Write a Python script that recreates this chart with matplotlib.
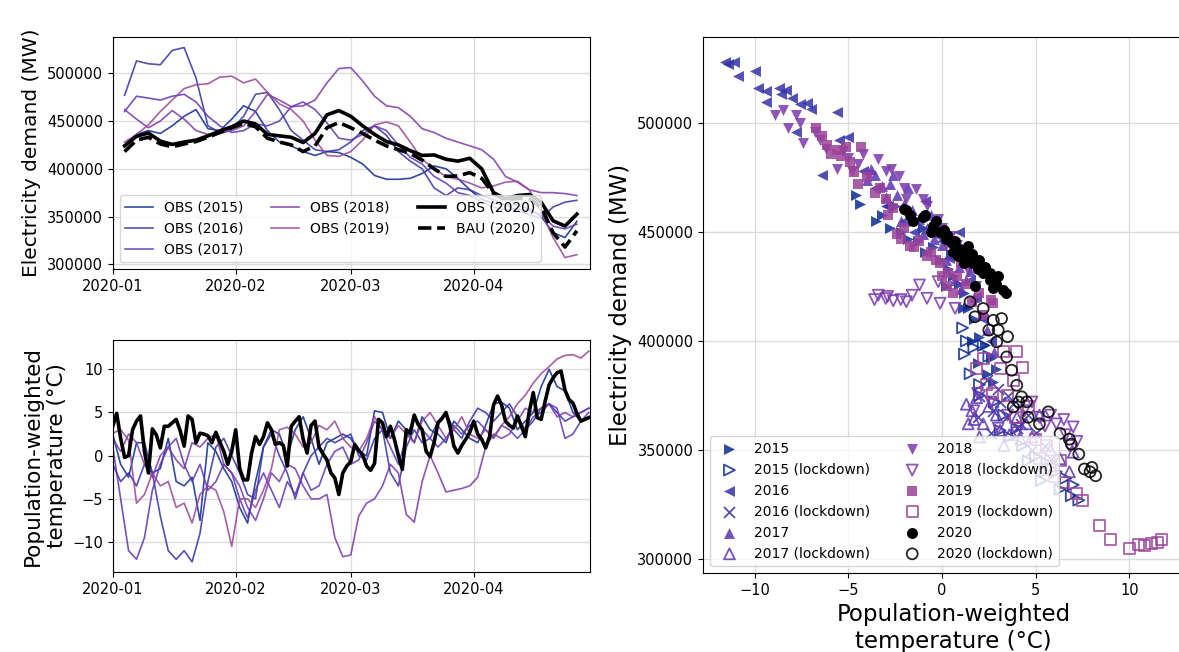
import matplotlib

matplotlib.use("Agg")
import matplotlib.dates as mdates
import matplotlib.pyplot as plt
import numpy as np

# ---- data ------------------------------------------------------------------
BASE_DATE = np.datetime64("2020-01-01")
YEARS = [2015, 2016, 2017, 2018, 2019]
YEAR_COLORS = {2015: "#0b2a8f", 2016: "#3431a6", 2017: "#5b36b4", 2018: "#7b37ad", 2019: "#9b4299"}

# 7-day smoothed demand, sampled every 3 days (day 3 .. day 117 after Jan 1)
demand_days = np.arange(3, 118, 3)
demand_2015 = [425000, 436000, 440000, 437000, 445000, 455000, 462000, 442000, 440000, 452000,
               466000, 460000, 440000, 428000, 424000, 418000, 414000, 418000, 417000, 412000,
               405000, 393000, 389000, 389000, 390000, 395000, 403000, 400000, 390000, 378000,
               368000, 364000, 362000, 362000, 358000, 350000, 333000, 328000, 345000]
demand_2016 = [477000, 513000, 510000, 509000, 524000, 527000, 495000, 445000, 438000, 442000,
               455000, 478000, 480000, 462000, 440000, 430000, 420000, 418000, 420000, 428000,
               440000, 445000, 435000, 418000, 408000, 400000, 380000, 372000, 380000, 378000,
               372000, 368000, 362000, 356000, 352000, 348000, 360000, 365000, 367000]
demand_2017 = [460000, 476000, 474000, 472000, 476000, 478000, 470000, 455000, 445000, 438000,
               440000, 447000, 445000, 450000, 465000, 470000, 462000, 448000, 432000, 430000,
               436000, 445000, 440000, 425000, 412000, 405000, 392000, 385000, 375000, 372000,
               365000, 360000, 357000, 358000, 356000, 352000, 340000, 337000, 342000]
demand_2018 = [462000, 452000, 443000, 450000, 461000, 452000, 440000, 436000, 437000, 440000,
               445000, 460000, 478000, 472000, 465000, 466000, 472000, 490000, 505000, 506000,
               492000, 476000, 466000, 464000, 455000, 442000, 438000, 432000, 428000, 424000,
               420000, 410000, 392000, 386000, 378000, 375000, 375000, 374000, 372000]
demand_2019 = [428000, 436000, 446000, 460000, 472000, 484000, 488000, 489000, 496000, 497000,
               490000, 494000, 480000, 468000, 462000, 450000, 430000, 414000, 413000, 418000,
               430000, 446000, 449000, 445000, 428000, 410000, 400000, 392000, 389000, 385000,
               380000, 382000, 386000, 387000, 378000, 355000, 328000, 307000, 310000]
demand_obs_2020 = [424000, 434000, 437500, 429000, 425500, 428000, 430000, 434500, 439500, 444000,
                   450000, 447000, 436000, 434500, 433000, 427500, 437000, 456500, 461000, 455000,
                   445000, 436000, 428500, 425000, 419000, 414000, 414500, 410000, 408000, 411000,
                   400000, 375000, 368500, 372000, 373000, 365000, 345500, 340000, 352500]
demand_bau_2020 = [418000, 430000, 433000, 426000, 423000, 426000, 428500, 433000, 438000, 443000,
                   447500, 444000, 432000, 428000, 425000, 418000, 424000, 443000, 448500, 443000,
                   437000, 430000, 424000, 420000, 416000, 409000, 400000, 392000, 392500, 396000,
                   390000, 374000, 367000, 369000, 368000, 360000, 333000, 318000, 335000]

# population-weighted temperature, every 2 days for past years, daily for 2020
temp_days = np.arange(0, 121, 2)
temp_2015 = [2.5, -1.0, -2.5, 1.5, 1.5, -2.0, -1.5, 2.0, -3.0, -3.5, -2.5, -7.5, 1.5, 0.5, -1.5,
             -3.0, -6.0, -7.8, -3.0, 1.0, 3.0, 2.5, 0.0, 3.0, 4.5, 2.0, -1.0, 1.5, 2.0, 2.5,
             2.0, 0.5, 0.0, 5.2, 5.0, 2.0, 4.0, 3.0, 1.5, 4.5, 3.0, 2.5, 1.5, 4.0, 3.0,
             2.0, 1.5, 3.5, 6.0, 6.2, 5.5, 3.0, 4.0, 5.0, 8.0, 10.0, 8.0, 7.5, 5.0, 4.0, 4.5]
temp_2016 = [-1.0, -3.0, -2.0, -3.5, -1.0, -2.0, -7.0, -11.0, -12.0, -11.0, -12.3, -9.0, -3.0, 1.0, 2.0,
             0.0, -2.0, -4.5, -5.0, 1.0, 2.5, 0.0, -2.0, -5.0, -2.0, 0.0, 1.0, 2.0, 1.5, 2.0,
             2.5, 0.0, -0.5, 2.0, 3.0, -2.0, -3.5, 1.0, 3.0, 1.5, 2.0, 4.0, 5.0, 3.0, 2.0,
             4.0, 5.5, 5.0, 4.0, 5.0, 6.0, 4.5, 3.0, 4.0, 5.5, 6.0, 5.0, 4.0, 4.5, 5.0, 5.5]
temp_2017 = [1.0, -5.0, -11.0, -12.0, -9.5, -4.0, -1.0, 1.0, 2.0, -1.0, -3.0, -1.0, -4.0, -3.0, -1.0,
             -2.0, -5.0, -7.2, -4.0, -2.0, -4.0, -6.0, -3.0, -4.5, -2.0, -4.0, -3.5, -1.0, 0.5, 1.0,
             -1.0, -0.5, 1.5, 4.0, 3.0, 1.0, -1.0, 2.0, 4.5, 3.0, 2.0, 1.0, 2.0, 3.5, 2.5,
             3.5, 4.0, 3.0, 2.0, 3.5, 3.0, 2.0, 3.0, 4.5, 5.0, 6.0, 5.5, 2.0, 2.5, 4.0, 5.0]
temp_2018 = [2.0, 0.5, 2.5, 1.5, -1.0, -2.5, 0.0, 1.0, -0.5, -1.5, 1.5, 1.0, 2.0, 2.5, -1.0,
             -2.0, -3.5, -6.0, -7.5, -5.0, -2.0, -3.0, -1.0, -1.5, -3.5, -5.0, -5.0, -4.5, -9.5, -11.7,
             -11.5, -7.0, -5.5, -5.0, -3.5, -1.0, -2.0, -6.8, -7.7, -3.0, 0.0, -2.0, -4.2, -4.0, -3.8,
             -3.5, -2.5, 1.0, 2.5, 2.0, 2.5, 4.0, 5.5, 5.0, 5.5, 6.0, 4.5, 5.0, 4.5, 5.0, 5.5]
temp_2019 = [2.6, 3.0, 1.8, -5.5, -4.5, -2.0, -3.5, -3.0, -6.0, -5.5, -7.8, -4.5, -3.5, -4.0, -6.5,
             -10.5, -5.0, -5.0, -6.0, -4.0, -1.5, 3.0, 3.3, 2.5, 1.0, 1.5, 3.5, 3.0, 4.0, 2.0,
             1.0, 0.5, 2.0, 4.5, 3.0, 2.0, 3.5, 2.5, 1.5, 4.0, 5.0, 3.5, 2.0, 3.0, 4.5,
             2.5, 2.0, 3.0, 2.2, 3.5, 4.5, 6.0, 7.0, 8.4, 9.5, 10.3, 11.2, 11.6, 11.7, 11.3, 12.1]
temp_days_2020 = np.arange(0, 121)
temp_2020 = [3.4, 4.9, 2.0, -0.2, 0.0, 3.0, 4.0, 4.6, 0.5, -2.0, 3.1, 2.4, 0.9, 3.4, 3.4,
             3.8, 4.2, 2.9, 1.1, 4.6, 4.2, 1.5, 2.6, 2.5, 2.3, 1.5, 2.7, 1.6, 0.5, -1.0,
             0.5, 3.0, -1.5, -2.8, -2.8, 0.3, 2.2, 1.3, 2.2, 3.8, 3.0, 1.3, 1.5, 1.2, -1.2,
             3.4, 4.0, 4.5, 1.9, 0.3, 3.5, 4.0, 1.0, 0.2, -0.5, -2.0, -2.6, -4.5, -2.0, -1.2,
             -0.7, 1.3, 0.6, 0.1, -1.2, -1.7, -0.9, 4.2, 3.8, 2.2, 3.4, 1.9, 0.0, -1.6, 3.0,
             2.6, 4.7, 3.6, 3.0, 0.5, -0.1, 1.5, 3.8, 4.3, 5.0, 3.4, 1.1, 0.3, 1.2, 1.9,
             2.7, 4.0, 2.5, 1.9, 0.9, 2.2, 5.9, 6.9, 5.9, 4.0, 3.5, 3.2, 4.6, 3.4, 2.2,
             5.1, 7.3, 4.4, 4.2, 6.3, 8.2, 9.0, 9.6, 9.8, 7.6, 6.5, 6.1, 4.9, 4.0, 4.2, 4.4]

# scatter: (temperature, demand) before and during the lockdown window
sc_2015_t = [-4.6, -4.4, -3.5, -3.2, -2.8, -2.2, -1.8, -1.3, -0.9, -0.5, -0.1, 0.3, 0.6, 0.9, 1.2,
             1.4, 1.7, 2.0, 2.3, 2.6, 0.2, -1.0, 1.9, 2.9, -2.5, -1.5, 0.5, 1.1, 2.4, 2.7, 1.6]
sc_2015_d = [467000, 463000, 455000, 458000, 452000, 450000, 447000, 446000, 441000, 443000, 437000,
             433000, 430000, 426000, 422000, 415000, 410000, 402000, 398000, 392000, 425000, 452000,
             390000, 387000, 462000, 455000, 440000, 415000, 385000, 381000, 400000]
lk_2015_t = [1.1, 1.3, 1.2, 1.7, 2.2, 2.5, 1.5, 2.0, 3.1, 3.6, 4.3, 5.0, 5.6, 6.1, 6.6, 7.0, 7.3,
             6.9, 5.3, 4.6, 2.8, 3.3, 2.0, 4.0, 5.5, 6.3]
lk_2015_d = [406000, 400000, 394000, 397000, 398000, 393000, 385000, 380000, 359000, 356000, 352000,
             347000, 344000, 340000, 337000, 334000, 327000, 329000, 336000, 345000, 372000, 366000,
             375000, 360000, 340000, 332000]
sc_2016_t = [-11.6, -11.4, -11.1, -10.9, -10.0, -9.8, -9.4, -9.4, -8.7, -8.6, -8.0, -7.6, -7.0, -6.4,
             -5.0, -3.6, -2.9, -2.0, -0.9, 0.0, 0.9, 1.5, 2.2, -1.5, 0.4, -8.3, -7.2, -5.6, -4.2,
             -3.0, -0.2, -7.8, -5.5, 1.8, 2.6]
sc_2016_d = [528000, 527000, 528000, 521500, 523800, 516200, 514600, 509400, 516200, 513100, 511600,
             508600, 506300, 476000, 493600, 470000, 462000, 455000, 464000, 446000, 450000, 428000,
             410000, 450000, 438000, 515000, 509000, 505000, 478000, 462000, 448000, 496000, 492000,
             420000, 400000]
lk_2016_t = [2.0, 2.7, 3.1, 3.45, 3.8, 4.2, 4.6, 5.0, 3.0, 2.4, 4.0, 5.5, 2.6, 3.5, 4.8, 5.8, 1.9]
lk_2016_d = [375000, 368000, 372000, 365000, 371000, 362000, 366000, 358000, 378000, 382000, 360000,
             352000, 358000, 375000, 350000, 346000, 365000]
sc_2017_t = [-4.0, -3.6, -3.2, -2.8, -2.4, -2.0, -1.6, -1.2, -0.8, -0.4, 0.0, 0.5, 0.9, 1.3, 1.7,
             2.1, -3.0, -1.0, 0.2, 1.0, -3.8, -2.6, -1.8, -0.6, 0.4, 1.5, 2.4, 2.8, -2.2, 0.7]
sc_2017_d = [474000, 476000, 471000, 472000, 467000, 463000, 460000, 456000, 452000, 447000, 444000,
             440000, 434000, 428000, 420000, 412000, 466000, 449000, 437000, 424000, 479000, 476000,
             470000, 458000, 448000, 432000, 405000, 395000, 455000, 428000]
lk_2017_t = [1.3, 1.7, 1.85, 2.2, 2.9, 3.1, 4.0, 4.5, 5.2, 1.6, 2.5, 3.6, 4.8, 5.8, 6.3, 1.4, 2.0,
             3.3, 4.2, 6.8, 7.0]
lk_2017_d = [371000, 364000, 374000, 362000, 366000, 359000, 365000, 362000, 366000, 368000, 370000,
             357000, 356000, 350000, 346000, 362000, 356000, 352000, 355000, 340000, 349000]
sc_2018_t = [-8.9, -8.5, -7.8, -8.2, -7.4, -5.6, -4.5, -3.4, -2.7, -2.3, -1.4, -0.8, -0.2, 0.5, 1.0,
             -6.2, -5.0, -3.9, -1.9, 0.2, 1.4, -6.8, -7.6, -6.5, -5.3, -4.8, -4.2, -3.0, -2.0, -1.0,
             0.0, 0.8, 1.8]
sc_2018_d = [503700, 506000, 503700, 497600, 490700, 478800, 481000, 483400, 478800, 475700, 469600,
             462000, 456000, 448000, 440000, 488000, 484000, 476000, 465000, 444000, 432000, 496000,
             500000, 492000, 487000, 478000, 486000, 478000, 470000, 465000, 452000, 444000, 425000]
lk_2018_t = [-3.6, -3.4, -3.0, -2.6, -2.2, -1.6, -1.2, -0.8, -0.2, -0.1, 0.7, 1.7, 2.6, 3.5, 4.4,
             5.2, 5.8, 6.1, 6.6, 7.0, 7.2, 1.9, 3.0, 4.0, 4.8, 5.5, 6.5, 6.8, -2.9, -1.9]
lk_2018_d = [419000, 421000, 419500, 418500, 419000, 421000, 425700, 419600, 427200, 417300, 415000,
             368000, 372000, 366000, 368000, 365000, 366000, 362000, 357000, 360600, 354000, 376000,
             360000, 358000, 372000, 361000, 364000, 352000, 420500, 418000]
sc_2019_t = [-6.7, -6.15, -5.6, -5.1, -4.3, -5.4, -4.7, -3.6, -2.6, -2.4, -2.2, -1.7, -1.5, -0.8,
             -0.6, -0.3, -0.1, 0.3, 0.8, 0.25, 1.3, 2.0, 2.6, 2.7, -3.0, -4.0, -6.4, -5.9, -4.9,
             -4.5, -3.3, -2.9, -2.0, -1.2, 0.0, 0.6, 1.6, 2.2, 1.0]
sc_2019_d = [497600, 490000, 487600, 489100, 489000, 484900, 477300, 468100, 461200, 449000, 447000,
             443600, 443300, 439000, 441000, 437200, 436000, 431100, 429600, 425000, 426000, 421900,
             418900, 417400, 465000, 475000, 494000, 486000, 482000, 472000, 470000, 458000, 452000,
             446000, 430000, 422000, 418000, 412000, 436000]
lk_2019_t = [1.85, 2.4, 3.1, 3.3, 3.8, 4.0, 4.6, 5.2, 5.8, 6.5, 7.5, 8.4, 9.0, 10.0, 10.5, 10.8,
             11.2, 11.5, 11.7, 3.5, 5.6, 2.2, 2.7, 4.3, 3.9, 5.0, 6.0, 7.2, 6.3]
lk_2019_d = [387500, 380000, 387500, 395200, 382000, 395000, 370000, 346200, 341000, 335100, 326700,
             315300, 309000, 305000, 306500, 306000, 307000, 307600, 309000, 375000, 352000, 392000,
             376000, 388000, 365000, 355000, 338000, 330000, 345000]
sc_2020_t = [-2.0, -1.9, -1.54, -1.0, -0.91, -0.47, -0.12, 0.24, 0.25, 0.52, 0.87, 0.95, 1.3, 1.4,
             1.58, 2.0, 2.2, 2.56, 3.0, 3.27, 1.76, 2.74, 2.56, -0.6, 0.6, 1.9, -1.7, -0.3, 0.1,
             0.7, 1.1, 1.6, 2.3, 2.9, 3.4, 1.2]
sc_2020_d = [460400, 460100, 455000, 457000, 458000, 452800, 449800, 447000, 448700, 444900, 438800,
             442000, 439000, 443400, 435700, 437200, 431100, 428100, 429600, 423500, 425000, 424200,
             431400, 450000, 441000, 433000, 458000, 455000, 451000, 446000, 441000, 440000, 434000,
             426000, 422000, 436000]
lk_2020_t = [1.76, 2.2, 2.74, 3.18, 2.92, 3.45, 3.72, 3.99, 4.25, 4.52, 3.8, 5.67, 6.3, 6.9, 7.3,
             7.6, 8.0, 8.2, 1.5, 2.5, 3.0, 3.5, 4.1, 4.6, 5.2, 6.8, 7.9]
lk_2020_d = [411100, 414900, 409500, 410300, 399600, 392700, 386600, 379700, 374400, 372100, 369800,
             367500, 357600, 352700, 348100, 341300, 342000, 338200, 418000, 405000, 405000, 402000,
             372000, 365000, 362000, 355000, 340000]


def _dates(days):
    return BASE_DATE + np.asarray(days).astype("timedelta64[D]")


def _style_time_axis(ax):
    ax.set_xlim(BASE_DATE, BASE_DATE + np.timedelta64(120 * 24 + 10, "h"))
    ax.xaxis.set_major_locator(mdates.MonthLocator())
    ax.xaxis.set_major_formatter(mdates.DateFormatter("%Y-%m"))
    ax.grid(True, color="#dcdcdc", linewidth=1.0)
    ax.tick_params(labelsize=10.5)


def plot_demand(ax):
    demand = {2015: demand_2015, 2016: demand_2016, 2017: demand_2017,
              2018: demand_2018, 2019: demand_2019}
    for year in YEARS:
        ax.plot(_dates(demand_days), demand[year], color=YEAR_COLORS[year], linewidth=1.2,
                alpha=0.85, label=f"OBS ({year})")
    ax.plot(_dates(demand_days), demand_obs_2020, color="black", linewidth=2.6, label="OBS (2020)")
    ax.plot(_dates(demand_days), demand_bau_2020, color="black", linewidth=2.6, linestyle="--",
            label="BAU (2020)")
    _style_time_axis(ax)
    ax.set_ylim(295000, 538000)
    ax.set_yticks([300000, 350000, 400000, 450000, 500000])
    ax.set_ylabel("Electricity demand (MW)", fontsize=14.5)
    ax.legend(loc="lower left", ncol=3, fontsize=10)


def plot_temperature(ax):
    temps = {2015: temp_2015, 2016: temp_2016, 2017: temp_2017, 2018: temp_2018, 2019: temp_2019}
    for year in YEARS:
        ax.plot(_dates(temp_days), temps[year], color=YEAR_COLORS[year], linewidth=1.2, alpha=0.85)
    ax.plot(_dates(temp_days_2020), temp_2020, color="black", linewidth=2.6)
    _style_time_axis(ax)
    ax.set_ylim(-13.47, 13.39)
    ax.set_yticks([-10, -5, 0, 5, 10])
    ax.set_ylabel("Population-weighted\ntemperature (°C)", fontsize=15.5)


def plot_scatter(ax):
    groups = [
        (2015, ">", sc_2015_t, sc_2015_d, ">", lk_2015_t, lk_2015_d),
        (2016, "<", sc_2016_t, sc_2016_d, "x", lk_2016_t, lk_2016_d),
        (2017, "^", sc_2017_t, sc_2017_d, "^", lk_2017_t, lk_2017_d),
        (2018, "v", sc_2018_t, sc_2018_d, "v", lk_2018_t, lk_2018_d),
        (2019, "s", sc_2019_t, sc_2019_d, "s", lk_2019_t, lk_2019_d),
    ]
    for year, mk, xs, ys, lmk, lxs, lys in groups:
        color = YEAR_COLORS[year]
        ax.scatter(xs, ys, marker=mk, s=62, color=color, alpha=0.85, linewidths=0, label=str(year))
        if lmk == "x":
            ax.scatter(lxs, lys, marker=lmk, s=62, color=color, alpha=0.85, linewidths=1.3,
                       label=f"{year} (lockdown)")
        else:
            ax.scatter(lxs, lys, marker=lmk, s=62, facecolors="none", edgecolors=color,
                       alpha=0.85, linewidths=1.3, label=f"{year} (lockdown)")
    ax.scatter(sc_2020_t, sc_2020_d, marker="o", s=62, color="black", linewidths=0, label="2020")
    ax.scatter(lk_2020_t, lk_2020_d, marker="o", s=62, facecolors="none", edgecolors="black",
               alpha=0.85, linewidths=1.3, label="2020 (lockdown)")

    ax.set_xlim(-12.75, 14.0)
    ax.set_ylim(293600, 539450)
    ax.set_xticks([-10, -5, 0, 5, 10])
    ax.set_yticks([300000, 350000, 400000, 450000, 500000])
    ax.grid(True, color="#dcdcdc", linewidth=1.0)
    ax.set_axisbelow(True)
    ax.tick_params(labelsize=10.5)
    ax.set_xlabel("Population-weighted\ntemperature (°C)", fontsize=16.5)
    ax.set_ylabel("Electricity demand (MW)", fontsize=16.5)
    ax.legend(loc="lower left", ncol=2, fontsize=10)


def main():
    fig = plt.figure(figsize=(11.79, 6.52), dpi=100)
    ax_demand = fig.add_axes([0.0956, 0.5874, 0.4052, 0.3558])
    ax_temp = fig.add_axes([0.0956, 0.1227, 0.4052, 0.3558])
    # the right panel runs past the figure edge, as in the cropped original
    ax_scatter = fig.add_axes([0.5963, 0.1212, 0.4252, 0.8221])

    plot_demand(ax_demand)
    plot_temperature(ax_temp)
    plot_scatter(ax_scatter)

    fig.savefig("out.png", dpi=100)
    plt.close(fig)


if __name__ == "__main__":
    main()
